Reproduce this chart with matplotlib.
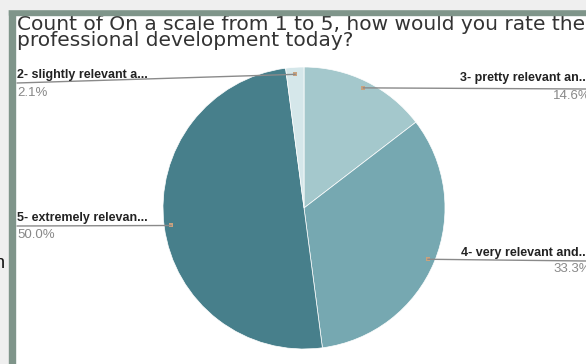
import numpy as np
import matplotlib
matplotlib.use("Agg")
from matplotlib import pyplot as plt
from matplotlib.patches import Rectangle

W, H = 586, 364

title1 = "Count of On a scale from 1 to 5, how would you rate the"
title2 = "professional development today?"

labels = ["3- pretty relevant an...", "4- very relevant and...",
          "5- extremely relevan...", "2- slightly relevant a..."]
counts = [7, 16, 24, 1]
pcts = ["14.6%", "33.3%", "50.0%", "2.1%"]
colors = ["#a4c8cc", "#76a8b1", "#477f8b", "#d5e7ea"]


def px(x, y):
    # pixel coords (top-left origin) -> figure fraction
    return x / W, 1 - y / H


fig = plt.figure(figsize=(W / 100, H / 100), dpi=100)
fig.patch.set_facecolor("#efefef")

# white panel of the screenshot
panel = fig.add_axes([0, 0, 1, 1])
panel.set_xlim(0, W)
panel.set_ylim(H, 0)
panel.axis("off")
panel.add_patch(Rectangle((15, 15), W - 15, H - 15, color="white", zorder=0))

# title (top line partly hidden by the frame)
fig.text(*px(17, 46), title1 + "\n" + title2, fontsize=14.5, color="#333333",
         family="DejaVu Sans", va="baseline", linespacing=0.8, zorder=1)

# pie
cx, cy, r = 304, 208, 141
l, b = px(cx - r, cy + r)
pie_ax = fig.add_axes([l, b, 2 * r / W, 2 * r / H])
wedges, _ = pie_ax.pie(counts, colors=colors, startangle=90, counterclock=False,
                       wedgeprops=dict(edgecolor="white", linewidth=0.5))
pie_ax.set_xlim(-1, 1)
pie_ax.set_ylim(-1, 1)
pie_ax.set_aspect("equal")

# label placement: (side, text y, underline y, percent y)
places = [("right", 78, 89, 96), ("right", 253, 261, 269),
          ("left", 218, 226, 235), ("left", 75, 83, 93)]
for w, lab, pct, (side, ty, ly, py) in zip(wedges, labels, pcts, places):
    ang = np.radians((w.theta1 + w.theta2) / 2)
    dot = (0.95 * np.cos(ang), 0.95 * np.sin(ang))
    xend = W if side == "right" else 17
    pie_ax.annotate("", xy=dot, xytext=px(xend, ly), textcoords="figure fraction",
                    arrowprops=dict(arrowstyle="-", color="#8a8a8a", lw=1.0,
                                    shrinkA=0, shrinkB=0),
                    annotation_clip=False)
    pie_ax.plot(*dot, marker="s", ms=2.2, color="#c9a27e", mew=0)
    if side == "right":
        fig.text(*px(W + 3, ty), lab, fontsize=9, fontweight="bold", color="#222222",
                 ha="right", va="center", family="Liberation Sans")
        fig.text(*px(W + 5, py), pct, fontsize=9.5, color="#888888",
                 ha="right", va="center", family="Liberation Sans")
    else:
        fig.text(*px(17, ty), lab, fontsize=9, fontweight="bold", color="#222222",
                 ha="left", va="center", family="Liberation Sans")
        fig.text(*px(17, py), pct, fontsize=9.5, color="#888888",
                 ha="left", va="center", family="Liberation Sans")

# frame of the screenshot
frame = fig.add_axes([0, 0, 1, 1], zorder=5)
frame.set_xlim(0, W)
frame.set_ylim(H, 0)
frame.axis("off")
frame.add_patch(Rectangle((9, 9), W - 9, 6, color="#7f958a"))
frame.add_patch(Rectangle((9, 9), 6, H - 9, color="#7f958a"))
frame.add_patch(Rectangle((0, 0), W, 9, color="#efefef"))
frame.text(-5, 268, "n", fontsize=13, color="#111111", family="Liberation Sans",
           va="baseline")

fig.savefig("out.png", dpi=100)
